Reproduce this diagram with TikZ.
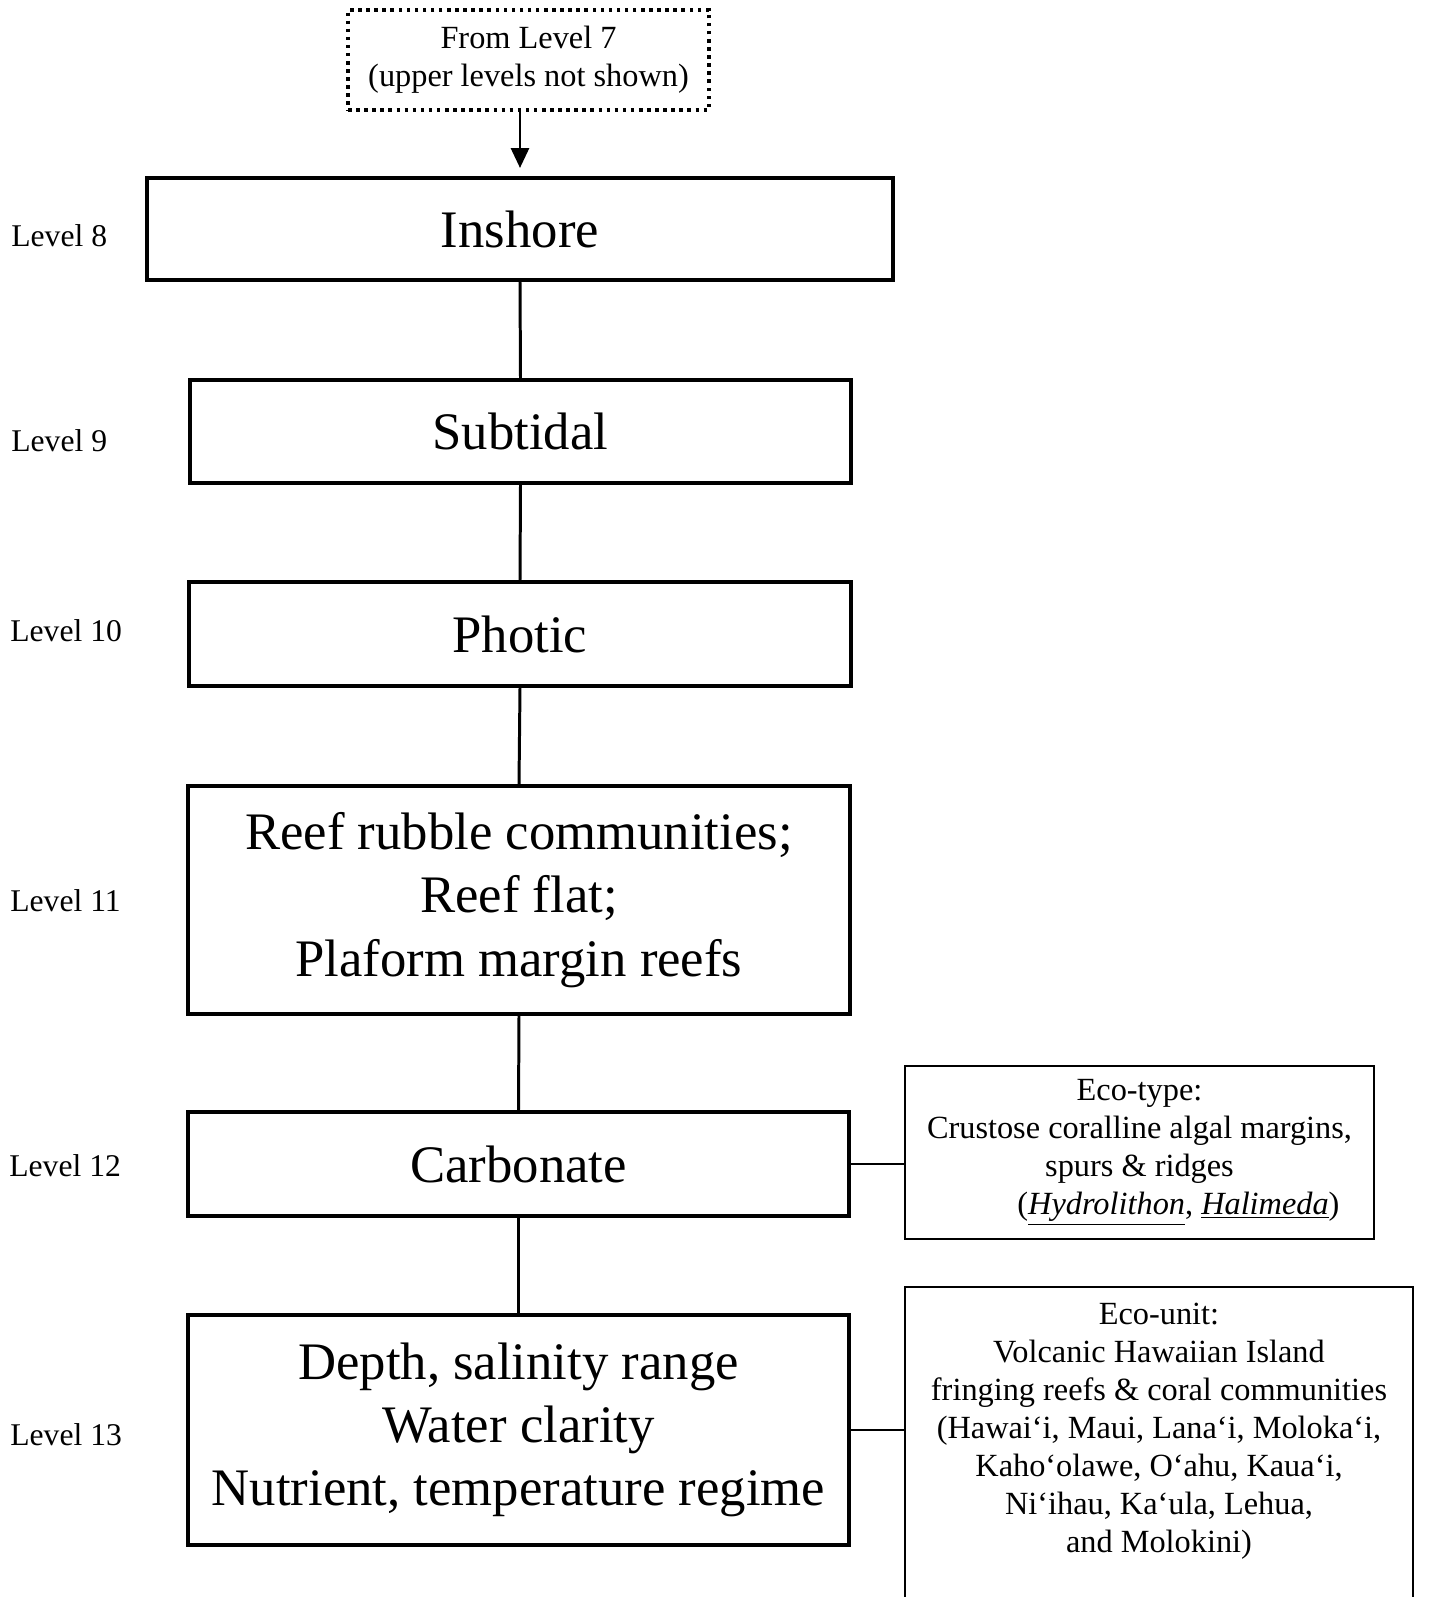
\documentclass[tikz,border=0pt]{standalone}
\usepackage{fontspec}
\setmainfont{Liberation Serif}
\usetikzlibrary{arrows.meta}
\tikzset{levelbox/.style={draw, line width=2.3pt, align=center, inner sep=0pt,
   font=\fontsize{30}{36}\selectfont},
 ecobox/.style={draw, line width=1.1pt, align=center, inner sep=0pt,
   font=\fontsize{18.4}{21.6}\selectfont},
 ecotext/.style={align=center, inner sep=0pt, font=\fontsize{18.4}{21.6}\selectfont},
 levellabel/.style={anchor=west, inner sep=0pt, font=\fontsize{18}{21.6}\selectfont},
 link/.style={line width=1.7pt},
 sidelink/.style={line width=1.1pt},
 }

\begin{document}
\begin{tikzpicture}[x=0.02cm, y=-0.02cm]
        \useasboundingbox (0,0) rectangle (1444,1597);
        \clip (0,0) rectangle (1444,1597);
        \fill[white] (0,0) rectangle (1444,1597);

        \node (from7) [ecobox, line width=2.2pt, dash pattern=on 2pt off 2.6pt,
          minimum width=7.22cm, minimum height=2cm] at (528.5,60)
          {From Level 7\\(upper levels not shown)};

        \node (inshore) [levelbox, minimum width=14.92cm, minimum height=2.04cm] at (520,229) {Inshore};
        \node (subtidal) [levelbox, minimum width=13.22cm, minimum height=2.06cm] at (520.5,431.5) {Subtidal};
        \node (photic) [levelbox, minimum width=13.24cm, minimum height=2.08cm] at (520,634) {Photic};
        \node (reef) [levelbox, minimum width=13.24cm, minimum height=4.56cm] at (519,900)
          {Reef rubble communities;\\Reef flat;\\Plaform margin reefs};
        \node (carbonate) [levelbox, minimum width=13.22cm, minimum height=2.08cm] at (518.5,1164) {Carbonate};
        \node (depth) [levelbox, minimum width=13.22cm, minimum height=4.6cm] at (518.5,1430)
          {Depth, salinity range\\Water clarity\\Nutrient, temperature regime};

        \node (lv8) [levellabel] at (11,236) {Level 8};
        \node (lv9) [levellabel] at (11,441) {Level 9};
        \node (lv10) [levellabel] at (10,631) {Level 10};
        \node (lv11) [levellabel] at (10,901) {Level 11};
        \node (lv12) [levellabel] at (9,1166) {Level 12};
        \node (lv13) [levellabel] at (10,1435) {Level 13};

        \node (ecotype) [ecobox, minimum width=9.38cm, minimum height=3.46cm] at (1139.5,1152.5)
          {Eco-type:\\Crustose coralline algal margins,\\spurs \& ridges\\
           \hspace*{1.56cm}(\underline{\textit{Hydrolithon}}, \underline{\textit{Halimeda}})};

        \node (ecounit) [ecobox, anchor=north, minimum width=10.16cm, minimum height=7.4cm] at (1159,1286) {};
        \node (ecounittext) [ecotext] at (1159,1431)
          {Eco-unit:\\Volcanic Hawaiian Island\\fringing reefs \& coral communities\\
           (Hawai‘i, Maui, Lana‘i, Moloka‘i,\\Kaho‘olawe, O‘ahu, Kaua‘i,\\
           Ni‘ihau, Ka‘ula, Lehua,\\and Molokini)};

        \draw[link, -{Triangle[length=0.4cm,width=0.36cm]}, shorten >=0.16cm]
          (inshore.north |- from7.south) -- (inshore.north);
        \draw[link] (inshore.south) -- (subtidal.north);
        \draw[link] (subtidal.south) -- (photic.north);
        \draw[link] (photic.south) -- (reef.north);
        \draw[link] (reef.south) -- (carbonate.north);
        \draw[link] (carbonate.south) -- (depth.north);

        \draw[sidelink] (carbonate.east) -- (carbonate.east -| ecotype.west);
        \draw[sidelink] (depth.east) -- (depth.east -| ecounit.west);
    \end{tikzpicture}
\end{document}
